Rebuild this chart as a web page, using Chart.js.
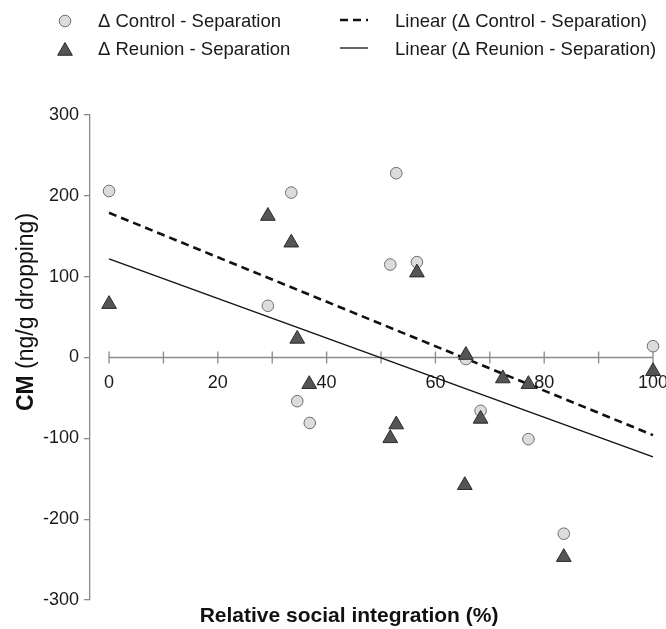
<!DOCTYPE html>
<html>
<head>
<meta charset="utf-8">
<script src="https://cdn.jsdelivr.net/npm/chart.js@4"></script>
<style>
  html, body { margin: 0; padding: 0; background: #fff; }
  #wrap { position: relative; width: 666px; height: 629px; }
</style>
</head>
<body>
<div id="wrap"><canvas id="c" width="666" height="629"></canvas></div>
<script>
// ---- data ----
const controlX = [0, 29.2, 33.5, 34.6, 36.9, 51.7, 52.8, 56.6, 65.6, 68.3, 77.1, 83.6, 100];
const controlY = [206, 64, 204, -54, -81, 115, 228, 118, -2, -66, -101, -218, 14];
const reunionX = [0, 29.2, 33.5, 34.6, 36.8, 51.7, 52.8, 56.6, 65.4, 65.6, 68.3, 72.4, 77.1, 83.6, 100];
const reunionY = [66, 175, 142, 23, -33, -100, -83, 105, -158, 3, -76, -26, -33, -247, -17];
const trendX = [0, 100];
const trendControlY = [179, -96];
const trendReunionY = [122, -123];
const seriesNames = ['\u0394 Control - Separation', '\u0394 Reunion - Separation'];
const trendNames = ['Linear (\u0394 Control - Separation)', 'Linear (\u0394 Reunion - Separation)'];
const xTitle = 'Relative social integration (%)';
const yTitleBold = 'CM';
const yTitleRest = ' (ng/g dropping)';
const xTicks = [0, 10, 20, 30, 40, 50, 60, 70, 80, 90, 100];
const xTickLabels = ['0', '', '20', '', '40', '', '60', '', '80', '', '100'];
const yTicks = [-300, -200, -100, 0, 100, 200, 300];

const pts = (xs, ys) => xs.map((x, i) => ({x: x, y: ys[i]}));
const FONT = "'Liberation Sans', Arial, sans-serif";
const AXIS = '#8a8a8a';

const extras = {
  id: 'extras',
  beforeDatasetsDraw(chart) {
    const ctx = chart.ctx, xs = chart.scales.x, ys = chart.scales.y;
    const y0 = ys.getPixelForValue(0);
    ctx.save();
    ctx.strokeStyle = AXIS;
    ctx.lineWidth = 1.3;
    ctx.beginPath();
    const vals = xs.ticks.map(t => t.value);
    ctx.moveTo(xs.getPixelForValue(Math.min(...vals)), y0);
    ctx.lineTo(xs.getPixelForValue(Math.max(...vals)), y0);
    vals.forEach(v => {
      const px = xs.getPixelForValue(v);
      ctx.moveTo(px, y0 - 6);
      ctx.lineTo(px, y0 + 6);
    });
    ctx.stroke();
    ctx.restore();
  },
  afterDraw(chart) {
    const ctx = chart.ctx;
    ctx.save();
    ctx.fillStyle = '#111';
    // x title
    ctx.font = 'bold 21px ' + FONT;
    ctx.textAlign = 'center';
    ctx.textBaseline = 'alphabetic';
    ctx.fillText(xTitle, 349, 622);
    // y title (mixed weight)
    ctx.translate(33, 312);
    ctx.rotate(-Math.PI / 2);
    ctx.textAlign = 'left';
    ctx.font = 'bold 23px ' + FONT;
    const wb = ctx.measureText(yTitleBold).width;
    ctx.font = '23px ' + FONT;
    const wr = ctx.measureText(yTitleRest).width;
    const start = -(wb + wr) / 2;
    ctx.font = 'bold 23px ' + FONT;
    ctx.fillText(yTitleBold, start, 0);
    ctx.font = '23px ' + FONT;
    ctx.fillText(yTitleRest, start + wb, 0);
    ctx.restore();

    // legend
    ctx.save();
    const ds = chart.data.datasets;
    const rows = [21, 49];
    ctx.font = '18.5px ' + FONT;
    ctx.textBaseline = 'middle';
    ctx.textAlign = 'left';
    [0, 1].forEach(i => {
      const d = ds[i];
      ctx.fillStyle = d.backgroundColor;
      ctx.strokeStyle = d.borderColor;
      ctx.lineWidth = d.borderWidth;
      Chart.helpers.drawPoint(ctx, {pointStyle: d.pointStyle, radius: d.pointRadius, borderWidth: d.borderWidth, rotation: 0},
        65, rows[i] + (d.pointStyle === 'triangle' ? 2 : 0));
      ctx.fillStyle = '#1a1a1a';
      ctx.fillText(seriesNames[i], 98, rows[i] + 1);
    });
    [2, 3].forEach((k, i) => {
      const d = ds[k];
      ctx.strokeStyle = d.borderColor;
      ctx.lineWidth = d.borderWidth;
      ctx.setLineDash(d.borderDash || []);
      ctx.beginPath();
      ctx.moveTo(340, rows[i] - 1);
      ctx.lineTo(368, rows[i] - 1);
      ctx.stroke();
      ctx.setLineDash([]);
      ctx.fillStyle = '#1a1a1a';
      ctx.fillText(trendNames[i], 395, rows[i] + 1);
    });
    ctx.restore();
  }
};

new Chart(document.getElementById('c'), {
  type: 'scatter',
  data: {
    datasets: [
      { label: seriesNames[0], data: pts(controlX, controlY), pointStyle: 'circle', pointRadius: 5.8,
        backgroundColor: '#dcdcdc', borderColor: '#6e6e6e', borderWidth: 1, order: 1, clip: false },
      { label: seriesNames[1], data: pts(reunionX, reunionY), pointStyle: 'triangle', pointRadius: 8.5,
        backgroundColor: '#555555', borderColor: '#2a2a2a', borderWidth: 1, order: 0, clip: false },
      { type: 'line', label: trendNames[0], data: pts(trendX, trendControlY), showLine: true, pointRadius: 0,
        borderColor: '#111', borderWidth: 2.6, borderDash: [8, 5], fill: false, order: 2, clip: false },
      { type: 'line', label: trendNames[1], data: pts(trendX, trendReunionY), showLine: true, pointRadius: 0,
        borderColor: '#111', borderWidth: 1.3, fill: false, order: 2, clip: false }
    ]
  },
  options: {
    responsive: false,
    animation: false,
    events: [],
    layout: { padding: { left: 0, right: 13, top: 115, bottom: 29 } },
    plugins: { legend: { display: false }, tooltip: { enabled: false } },
    scales: {
      x: {
        type: 'linear', min: -3.5, max: 100,
        position: { y: 0 },
        afterBuildTicks: s => { s.ticks = xTicks.map(v => ({value: v})); },
        afterFit: s => { s.paddingLeft = 0; s.paddingRight = 0; },
        ticks: { autoSkip: false, maxRotation: 0, minRotation: 0, padding: 15,
                 color: '#1a1a1a', font: { family: FONT, size: 18 },
                 callback: (v, i) => xTickLabels[i] },
        grid: { display: true, drawOnChartArea: false, drawTicks: false, color: 'rgba(0,0,0,0)' },
        border: { display: false }
      },
      y: {
        type: 'linear', min: -300, max: 300,
        afterBuildTicks: s => { s.ticks = yTicks.map(v => ({value: v})); },
        afterFit: s => { s.width = 90; },
        ticks: { padding: 5, color: '#1a1a1a', font: { family: FONT, size: 18 } },
        grid: { display: true, drawOnChartArea: false, drawTicks: true, tickLength: 6, color: AXIS, lineWidth: 1.3 },
        border: { display: true, color: AXIS, width: 1.3 }
      }
    }
  },
  plugins: [extras]
});
</script>
</body>
</html>
